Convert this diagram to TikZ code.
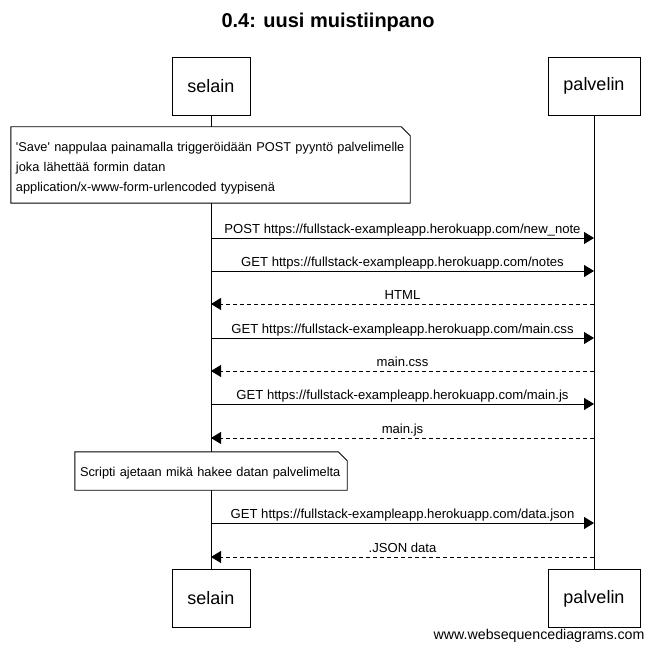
\documentclass[tikz,border=0pt]{standalone}
\usepackage{fontspec}
\setmainfont{Liberation Sans}
\usetikzlibrary{arrows.meta}
\begin{document}
\hyphenpenalty=10000
\exhyphenpenalty=10000
\begin{tikzpicture}[x=1pt,y=-1pt,
  actor/.style={draw,line width=0.9pt,fill=white,minimum height=58pt,inner sep=0pt,font=\fontsize{18}{20}\selectfont},
  lifeline/.style={line width=0.9pt},
  notebox/.style={fill=white,inner xsep=5pt,inner ysep=0pt,align=left,anchor=center},
  msg/.style={line width=0.9pt,-{Triangle[length=10pt,width=12pt]}},
  reply/.style={msg,dash pattern=on 4pt off 3pt},
  msglabel/.style={font=\fontsize{13.1}{15}\selectfont,text depth=3pt,above=-2pt,midway}
]
\useasboundingbox (0,0) rectangle (656,652);

% title
\node[font=\bfseries\fontsize{20}{24}\selectfont] (title) at (328,22) {0.4: uusi muistiinpano};

% participants (top and bottom)
\node[actor,minimum width=78pt] (selTop) at (211,86) {selain};
\node[actor,minimum width=92pt] (palTop) at (594,86) {palvelin};
\node[actor,minimum width=78pt] (selBot) at (211,598.5) {selain};
\node[actor,minimum width=92pt] (palBot) at (594,598.5) {palvelin};

% lifelines
\draw[lifeline] (selTop.south) -- (selBot.north);
\draw[lifeline] (palTop.south) -- (palBot.north);

% first note
\node[notebox,text width=389pt,minimum height=76pt,font=\fontsize{12.8}{20}\selectfont] (note1) at (210.5,165)
  {\rule{0pt}{16pt}\textquotesingle Save\textquotesingle\ nappulaa painamalla triggeröidään POST pyyntö palvelimelle\\
   joka lähettää formin datan\\
   application/x-www-form-urlencoded tyypisenä};
\draw[line width=0.9pt] (note1.south west) -- (note1.north west) -- ([xshift=-9pt]note1.north east)
  -- ([yshift=-9pt]note1.north east) -- (note1.south east) -- cycle;

% message endpoints on the lifelines
\foreach \n/\y in {1/238,2/271,3/304,4/338,5/371,6/404,7/438,8/523,9/557} {
  \coordinate (s\n) at (211,\y);
  \coordinate (p\n) at (594,\y);
}

\draw[msg] (s1) -- node[msglabel] {POST https://fullstack-exampleapp.herokuapp.com/new\_note} (p1);
\draw[msg] (s2) -- node[msglabel] {GET https://fullstack-exampleapp.herokuapp.com/notes} (p2);
\draw[reply] (p3) -- node[msglabel] {HTML} (s3);
\draw[msg] (s4) -- node[msglabel] {GET https://fullstack-exampleapp.herokuapp.com/main.css} (p4);
\draw[reply] (p5) -- node[msglabel] {main.css} (s5);
\draw[msg] (s6) -- node[msglabel] {GET https://fullstack-exampleapp.herokuapp.com/main.js} (p6);
\draw[reply] (p7) -- node[msglabel] {main.js} (s7);

% second note
\node[notebox,text width=262pt,minimum height=38pt,font=\fontsize{12.8}{15}\selectfont] (note2) at (211,471)
  {\rule{0pt}{13pt}Scripti ajetaan mikä hakee datan palvelimelta};
\draw[line width=0.9pt] (note2.south west) -- (note2.north west) -- ([xshift=-9pt]note2.north east)
  -- ([yshift=-9pt]note2.north east) -- (note2.south east) -- cycle;

\draw[msg] (s8) -- node[msglabel] {GET https://fullstack-exampleapp.herokuapp.com/data.json} (p8);
\draw[reply] (p9) -- node[msglabel] {.JSON data} (s9);

% footer
\node[font=\fontsize{14.2}{16}\selectfont,anchor=east] (footer) at (648,636) {www.websequencediagrams.com};
\end{tikzpicture}
\end{document}
